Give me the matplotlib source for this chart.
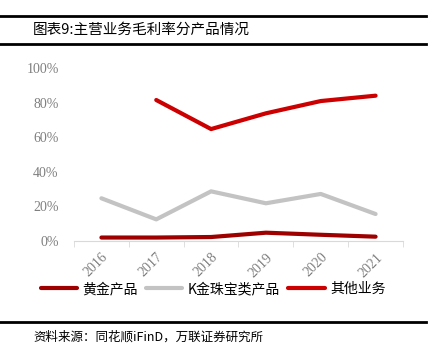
import matplotlib.pyplot as plt
from matplotlib.lines import Line2D

years = ['2016', '2017', '2018', '2019', '2020', '2021']
gold = [0.020, 0.020, 0.023, 0.048, 0.036, 0.025]
kgold = [0.247, 0.125, 0.287, 0.218, 0.272, 0.156]
other = [None, 0.815, 0.647, 0.738, 0.809, 0.840]

series_names = ['黄金产品', 'K金珠宝类产品', '其他业务']
colors = ['#9E0000', '#C3C3C3', '#CC0000']

cjk = ['Noto Sans CJK SC', 'DejaVu Sans']
plt.rcParams['font.family'] = cjk

fig = plt.figure(figsize=(4.35, 3.52), dpi=100)
ax = fig.add_axes([74 / 435, 1 - 241 / 352, 329 / 435, 173 / 352])

x = list(range(len(years)))
ax.plot(x, gold, color=colors[0], lw=3, solid_capstyle='round')
ax.plot(x, kgold, color=colors[1], lw=3, solid_capstyle='round')
ox = [i for i, v in zip(x, other) if v is not None]
oy = [v for v in other if v is not None]
ax.plot(ox, oy, color=colors[2], lw=3, solid_capstyle='round')

ax.set_xlim(-0.5, len(years) - 0.5)
ax.set_ylim(0, 1)
ax.set_yticks([0, 0.2, 0.4, 0.6, 0.8, 1.0])
ax.set_yticklabels(['0%', '20%', '40%', '60%', '80%', '100%'],
                   family='Liberation Serif', fontsize=10, color='#7F7F7F')
ax.set_xticks(x)
ax.set_xticklabels(years, rotation=45, family='Liberation Serif', fontsize=10,
                   color='#7F7F7F', ha='right', va='top', rotation_mode='anchor')
ax.set_xticks([i - 0.5 for i in range(len(years) + 1)], minor=True)
ax.tick_params(axis='x', which='major', length=0, pad=7)
ax.tick_params(axis='x', which='minor', length=4, color='#D9D9D9', direction='out')
ax.tick_params(axis='y', length=0, pad=11)
for s in ['top', 'right', 'left']:
    ax.spines[s].set_visible(False)
ax.spines['bottom'].set_color('#D9D9D9')

handles = [Line2D([], [], color=c, lw=3, solid_capstyle='round') for c in colors]
fig.legend(handles, series_names, loc='center', bbox_to_anchor=(0.49, 1 - 289 / 352),
           ncol=3, frameon=False, handlelength=2.6, columnspacing=0.6, handletextpad=0.4,
           prop={'family': cjk, 'size': 10})

# header / footer
fig.add_artist(Line2D([0, 426 / 435], [1 - 16 / 352] * 2, color='black', lw=2))
fig.add_artist(Line2D([0, 426 / 435], [1 - 44 / 352] * 2, color='black', lw=2))
fig.text(33 / 435, 1 - 30 / 352, '图表9:主营业务毛利率分产品情况', fontsize=10.5, va='center', ha='left')
fig.add_artist(Line2D([0, 426 / 435], [1 - 322 / 352] * 2, color='black', lw=2))
fig.text(33 / 435, 1 - 337 / 352, '资料来源：同花顺iFinD，万联证券研究所', fontsize=9, va='center',
         ha='left', style='italic')

fig.savefig('out.png', dpi=100)
